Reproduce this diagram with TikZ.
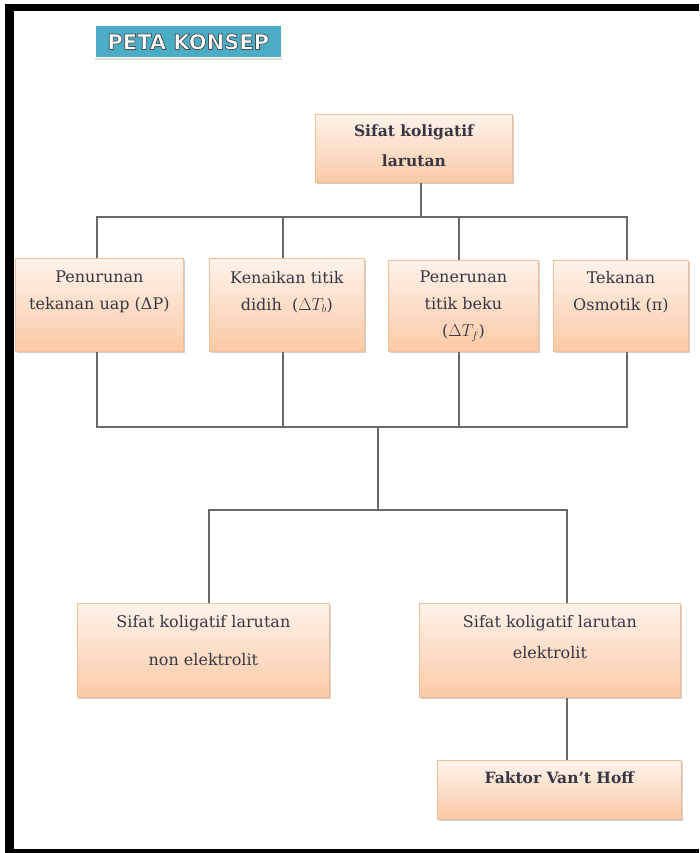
\documentclass[tikz,border=0pt]{standalone}
\usepackage{fontspec}
\setmainfont{DejaVu Serif}
\newfontfamily\bannerfont{DejaVu Sans}
\usetikzlibrary{shadows,calc}
\definecolor{txtc}{RGB}{55,55,68}
\definecolor{peachtop}{RGB}{254,243,235}
\definecolor{peachbot}{RGB}{250,202,165}
\definecolor{peachline}{RGB}{244,190,150}
\definecolor{teal}{RGB}{75,172,198}
\definecolor{connc}{RGB}{105,105,105}
\newcommand{\outlinedtext}[1]{\special{pdf:code 0.3 0.3 0.3 RG 0.75 w 2 Tr}#1\special{pdf:code 0 Tr}}
\begin{document}
\begin{tikzpicture}[x=1pt,y=-1pt,
  box/.style={rectangle, anchor=north west, inner sep=0pt,
    top color=peachtop, bottom color=peachbot, draw=peachline, line width=0.8pt,
    drop shadow={shadow xshift=1.8pt, shadow yshift=-1.8pt, fill=black!30, opacity=0.6}},
  txt/.style={anchor=north, inner sep=0pt, align=center, text=txtc,
    font=\fontsize{16}{27}\selectfont},
  btxt/.style={txt, font=\fontsize{15.5}{30}\selectfont\bfseries},
  conn/.style={draw=connc, line width=1.5pt}]
\useasboundingbox (0,0) rectangle (699,853);
% frame
\fill[black] (5,4) rectangle (699,11);
\fill[black] (5,4) rectangle (14,853);
\fill[black] (5,849) rectangle (699,853);
% banner
\node[rectangle, anchor=north west, fill=teal, draw=white, line width=1.5pt,
  minimum width=187pt, minimum height=32pt,
  drop shadow={shadow xshift=0pt, shadow yshift=-2pt, fill=black!25}] (banner) at (94,25) {};
\node[text=white, inner sep=0pt, font=\bannerfont\bfseries\fontsize{21}{21}\selectfont]
  (bannertxt) at (banner.center) {\outlinedtext{PETA KONSEP}};
% boxes
\node[box, minimum width=197pt, minimum height=68pt] (top) at (315,114) {};
\node[box, minimum width=168pt, minimum height=93pt] (b1) at (15,258) {};
\node[box, minimum width=155pt, minimum height=93pt] (b2) at (209,258) {};
\node[box, minimum width=150pt, minimum height=91pt] (b3) at (388,260) {};
\node[box, minimum width=135pt, minimum height=91pt] (b4) at (553,260) {};
\node[box, minimum width=252pt, minimum height=94pt] (n1) at (77,603) {};
\node[box, minimum width=261pt, minimum height=94pt] (n2) at (419,603) {};
\node[box, minimum width=244pt, minimum height=59pt] (fk) at (437,760) {};
% texts
\node[btxt] (ttop) at ($(top.north)+(0,11)$) {Sifat koligatif\\larutan};
\node[txt] (t1) at ($(b1.north)+(0,13)$) {Penurunan\\tekanan uap (ΔP)};
\node[txt] (t2) at ($(b2.north)+(0,13)$) {Kenaikan titik\\didih~~($\Delta T_b$)};
\node[txt] (t3) at ($(b3.north)+(0,11)$) {Penerunan\\titik beku\\($\Delta T_f$)};
\node[txt] (t4) at ($(b4.north)+(0,11)$) {Tekanan\\Osmotik (π)};
\node[txt, font=\fontsize{16}{38}\selectfont] (tn1) at ($(n1.north)+(0,12)$) {Sifat koligatif larutan\\non elektrolit};
\node[txt, font=\fontsize{16}{31}\selectfont] (tn2) at ($(n2.north)+(0,12)$) {Sifat koligatif larutan\\elektrolit};
\node[btxt] (tfk) at ($(fk.north)+(0,12)$) {Faktor Van’t Hoff};
% junction coordinates
\coordinate (c0) at (421,217);
\coordinate (xa) at (97,217);
\coordinate (xb) at (283,217);
\coordinate (xc) at (459,217);
\coordinate (xd) at (627,217);
\coordinate (ya) at (97,427);
\coordinate (yb) at (283,427);
\coordinate (yc) at (459,427);
\coordinate (yd) at (627,427);
\coordinate (m) at (378,427);
\coordinate (m2) at (378,510);
\coordinate (za) at (209,510);
\coordinate (zb) at (567,510);
% connectors
\draw[conn] (top.south -| c0) -- (c0);
\draw[conn] (xa |- b1.north) -- (xa) -- (xd) -- (xd |- b4.north);
\draw[conn] (xb) -- (xb |- b2.north);
\draw[conn] (xc) -- (xc |- b3.north);
\draw[conn] (b1.south -| ya) -- (ya) -- (yd) -- (b4.south -| yd);
\draw[conn] (b2.south -| yb) -- (yb);
\draw[conn] (b3.south -| yc) -- (yc);
\draw[conn] (m) -- (m2);
\draw[conn] (n1.north -| za) -- (za) -- (zb) -- (n2.north -| zb);
\draw[conn] (n2.south -| zb) -- (fk.north -| zb);
\end{tikzpicture}
\end{document}
